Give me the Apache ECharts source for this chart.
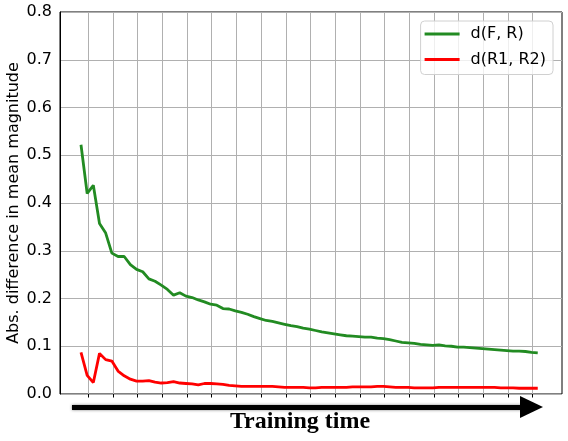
<!DOCTYPE html>
<html>
<head>
<meta charset="utf-8">
<script src="https://cdn.jsdelivr.net/npm/echarts@6/dist/echarts.min.js"></script>
<style>
  html, body { margin: 0; padding: 0; background: #fff; }
  #chart { width: 568px; height: 441px; }
</style>
</head>
<body>
<div id="chart"></div>
<script>
  const distFR = [
    0.522, 0.420, 0.437, 0.357, 0.337, 0.295, 0.288, 0.288, 0.271, 0.261,
    0.256, 0.241, 0.236, 0.228, 0.219, 0.207, 0.212, 0.205, 0.202, 0.197,
    0.193, 0.188, 0.186, 0.179, 0.178, 0.174, 0.171, 0.167, 0.162, 0.158,
    0.154, 0.152, 0.149, 0.146, 0.143, 0.141, 0.138, 0.136, 0.133, 0.130,
    0.128, 0.126, 0.124, 0.122, 0.121, 0.120, 0.119, 0.119, 0.117, 0.116,
    0.114, 0.111, 0.108, 0.107, 0.106, 0.104, 0.103, 0.102, 0.103, 0.101,
    0.100, 0.098, 0.098, 0.097, 0.096, 0.095, 0.094, 0.093, 0.092, 0.091,
    0.090, 0.090, 0.089, 0.087, 0.086
  ];
  const distR1R2 = [
    0.087, 0.039, 0.024, 0.085, 0.072, 0.069, 0.048, 0.038, 0.031, 0.027,
    0.027, 0.028, 0.025, 0.023, 0.024, 0.026, 0.023, 0.022, 0.021, 0.019,
    0.022, 0.022, 0.021, 0.020, 0.018, 0.017, 0.016, 0.016, 0.016, 0.016,
    0.016, 0.016, 0.015, 0.014, 0.014, 0.014, 0.014, 0.013, 0.013, 0.014,
    0.014, 0.014, 0.014, 0.014, 0.015, 0.015, 0.015, 0.015, 0.016, 0.016,
    0.015, 0.014, 0.014, 0.014, 0.013, 0.013, 0.013, 0.013, 0.014, 0.014,
    0.014, 0.014, 0.014, 0.014, 0.014, 0.014, 0.014, 0.014, 0.013, 0.013,
    0.013, 0.012, 0.012, 0.012, 0.012
  ];
  const seriesNames = ['d(F, R)', 'd(R1, R2)'];

  let myChart = echarts.init(document.getElementById('chart'), null, {renderer: 'canvas'});

  const font = 'DejaVu Sans';

  let option = {
    animation: false,
    grid: [
      // main plot, with the black frame
      {
        left: 60, right: 6, top: 12, bottom: 47,
        containLabel: false, outerBoundsMode: 'none',
        show: true, borderColor: '#000', borderWidth: 1
      },
      // only carries the vertical grid lines (ticks at the logged steps)
      {left: 88.3, right: 35.3, top: 12, bottom: 47, containLabel: false, outerBoundsMode: 'none'}
    ],
    legend: {
      data: seriesNames,
      orient: 'vertical',
      right: 15,
      top: 21,
      icon: 'path://M0,0 L35,0 L35,3 L0,3 Z',
      symbolKeepAspect: true,
      itemWidth: 35,
      itemHeight: 14,
      itemGap: 9.5,
      padding: [5, 7, 7, 4],
      backgroundColor: 'rgba(255,255,255,0.8)',
      borderColor: '#d0d0d0',
      borderWidth: 1,
      borderRadius: 4,
      textStyle: {fontFamily: font, fontSize: 16, color: '#000', padding: [0, 0, 0, 6]}
    },
    xAxis: [
      // data axis: step index, 5% margin each side like matplotlib
      {gridIndex: 0, type: 'value', min: -3.4, max: 77.93, interval: 3.4, show: false},
      {
        gridIndex: 1, type: 'value', min: 0, max: 18, interval: 1,
        axisLine: {show: false},
        axisTick: {show: true, length: 3.5, lineStyle: {color: '#000', width: 1}},
        axisLabel: {show: false},
        splitLine: {show: true, lineStyle: {color: '#b0b0b0', width: 1}}
      }
    ],
    yAxis: [
      {
        gridIndex: 0, type: 'value', min: 0, max: 0.8, interval: 0.1,
        name: 'Abs. difference in mean magnitude',
        nameLocation: 'middle',
        nameGap: 38,
        nameMoveOverlap: false,
        nameTextStyle: {fontFamily: font, fontSize: 16, color: '#000'},
        axisLine: {show: true, onZero: false, lineStyle: {color: '#000', width: 1}},
        axisTick: {show: false},
        axisLabel: {
          fontFamily: font, fontSize: 16, color: '#000', margin: 8,
          formatter: v => v.toFixed(1)
        },
        splitLine: {show: true, lineStyle: {color: '#b0b0b0', width: 1}}
      },
      {gridIndex: 1, type: 'value', min: 0, max: 0.8, show: false}
    ],
    series: [
      {
        name: seriesNames[0],
        type: 'line',
        xAxisIndex: 0, yAxisIndex: 0,
        symbol: 'none',
        color: '#228b22',
        lineStyle: {width: 2.8, color: '#228b22'},
        data: distFR.map((v, i) => [i, v])
      },
      {
        name: seriesNames[1],
        type: 'line',
        xAxisIndex: 0, yAxisIndex: 0,
        symbol: 'none',
        color: '#ff0000',
        lineStyle: {width: 2.8, color: '#ff0000'},
        data: distR1R2.map((v, i) => [i, v])
      }
    ],
    graphic: [
      // "training time" arrow pasted under the axis
      {
        type: 'line',
        shape: {x1: 72, y1: 407.5, x2: 524, y2: 407.5},
        style: {stroke: '#000', lineWidth: 5, shadowBlur: 3, shadowColor: 'rgba(0,0,0,0.5)'}
      },
      {
        type: 'polygon',
        shape: {points: [[520, 396], [543, 407], [520, 418]]},
        style: {fill: '#000'}
      },
      {
        type: 'text',
        x: 300, y: 422,
        style: {
          text: 'Training time',
          fill: '#000',
          font: 'bold 24px "Liberation Serif"',
          textAlign: 'center',
          textVerticalAlign: 'middle'
        }
      }
    ]
  };

  myChart.setOption(option);
</script>
</body>
</html>
